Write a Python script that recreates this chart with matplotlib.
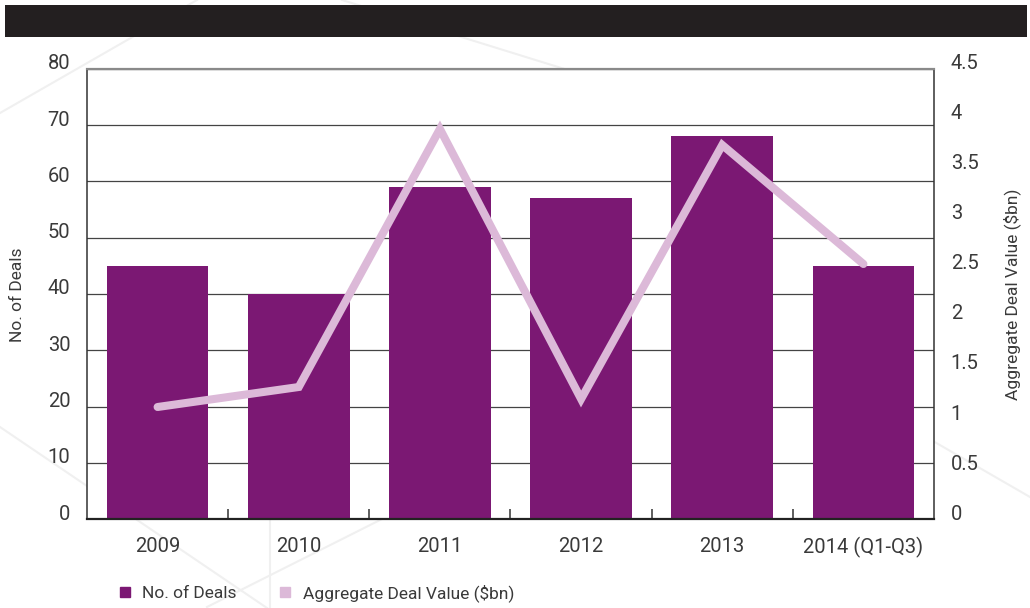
import matplotlib
matplotlib.use("Agg")
import matplotlib.pyplot as plt
import matplotlib.transforms as mtransforms
from matplotlib.lines import Line2D
from matplotlib.patches import Rectangle
from matplotlib.ticker import FixedLocator, FuncFormatter

plt.rcParams['font.family'] = ['Roboto', 'DejaVu Sans']
plt.rcParams['font.weight'] = 'normal'

# Data
years = ["2009", "2010", "2011", "2012", "2013", "2014 (Q1-Q3)"]
deals = [45, 40, 59, 57, 68, 45]
deal_value_bn = [1.12, 1.32, 3.9, 1.2, 3.74, 2.55]

BAR_COLOR = "#7b1873"
LINE_COLOR = "#dcb9d8"
TEXT_COLOR = "#3a3a3a"
W, H = 1030, 608

fig = plt.figure(figsize=(W / 100, H / 100), dpi=100)
fig.patch.set_facecolor("white")


def px(x, y):
    return x / W, 1 - y / H


# Faint decorative background lines
deco = [
    [(0, 113), (197, 0)],
    [(342, 0), (600, 80)],
    [(0, 427), (267, 608)],
    [(207, 607), (390, 515)],
    [(270, 515), (270, 608)],
    [(900, 422), (1030, 497)],
]
for seg in deco:
    (x0, y0), (x1, y1) = px(*seg[0]), px(*seg[1])
    fig.add_artist(Line2D([x0, x1], [y0, y1], transform=fig.transFigure,
                          color="#f0f0f0", lw=1.5, zorder=0))

# Dark header band
bx, by = px(5, 37)
fig.add_artist(Rectangle((bx, by), (1027 - 5) / W, (37 - 5) / H,
                         transform=fig.transFigure, facecolor="#231f20",
                         edgecolor="none", zorder=1))

ax = fig.add_axes([87 / W, 1 - 519 / H, (934 - 87) / W, (519 - 69) / H], zorder=2)
ax.set_facecolor("white")
ax.set_axisbelow(True)

x = list(range(len(years)))
ax.bar(x, deals, width=0.72, color=BAR_COLOR, zorder=2)
ax.set_xlim(-0.5, len(years) - 0.5)
ax.set_ylim(0, 80)
ax.yaxis.set_major_locator(FixedLocator(range(0, 81, 10)))
ax.grid(axis="y", color="#444444", lw=0.9)
ax.grid(axis="x", visible=False)

ax.set_xticks(x)
ax.set_xticklabels(years)
ax.set_xticks([i + 0.5 for i in x[:-1]], minor=True)
ax.tick_params(axis="x", which="major", length=0, pad=13, labelsize=14.5,
               labelcolor=TEXT_COLOR)
ax.tick_params(axis="x", which="minor", direction="in", length=7,
               width=1.1, color="#333333")
ax.tick_params(axis="y", length=0, pad=12, labelsize=14.5, labelcolor=TEXT_COLOR)

for side in ("left", "right"):
    ax.spines[side].set_color("#333333")
    ax.spines[side].set_linewidth(1.1)
ax.spines["top"].set_color("#8a8a8a")
ax.spines["top"].set_linewidth(1.6)
ax.spines["bottom"].set_color("#222222")
ax.spines["bottom"].set_linewidth(1.6)

ax2 = ax.twinx()
ax2.plot(x, deal_value_bn, color=LINE_COLOR, lw=5.8,
         solid_capstyle="round", solid_joinstyle="miter", zorder=3)
ax2.set_ylim(0, 4.5)
ax2.yaxis.set_major_locator(FixedLocator([i * 0.5 for i in range(10)]))
ax2.yaxis.set_major_formatter(FuncFormatter(lambda v, _: f"{v:g}"))
ax2.tick_params(axis="y", length=0, pad=12, labelsize=14.5, labelcolor=TEXT_COLOR)
for sp in ax2.spines.values():
    sp.set_visible(False)

# Lift the value labels slightly above their gridlines
lift = mtransforms.ScaledTranslation(0, 7 / 100, fig.dpi_scale_trans)
for lab in ax.get_yticklabels() + ax2.get_yticklabels():
    lab.set_transform(lab.get_transform() + lift)

fig.text(*px(18, 295), "No. of Deals", rotation=90, ha="center", va="center",
         fontsize=12.5, color=TEXT_COLOR)
fig.text(*px(1012, 294), "Aggregate Deal Value ($bn)", rotation=90,
         ha="center", va="center", fontsize=12.5, color=TEXT_COLOR)

handles = [
    Line2D([], [], marker="s", ls="", color=BAR_COLOR, markersize=7.5),
    Line2D([], [], marker="s", ls="", color=LINE_COLOR, markersize=7.5),
]
fig.legend(handles, ["No. of Deals", "Aggregate Deal Value ($bn)"],
           loc="center left", bbox_to_anchor=px(118, 593), ncol=2,
           frameon=False, fontsize=12.5, labelcolor=TEXT_COLOR,
           handlelength=0.8, handletextpad=0.6, columnspacing=2.4,
           borderpad=0, borderaxespad=0)

fig.savefig("out.png", dpi=100, facecolor="white")
